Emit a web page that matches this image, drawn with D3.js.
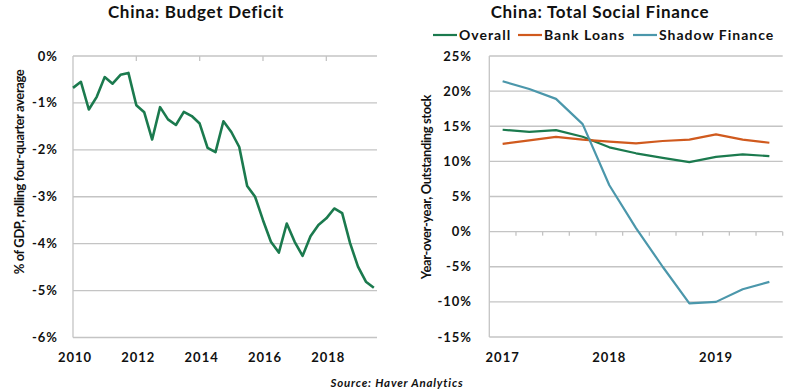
<!DOCTYPE html>
<html>
<head>
<meta charset="utf-8">
<script src="https://cdn.jsdelivr.net/npm/d3@7"></script>
<style>
  body { margin: 0; background: #fff; }
  svg text { font-family: Lato, "Open Sans", sans-serif; font-weight: bold; fill: #111; }
</style>
</head>
<body>
<div id="chart"></div>
<script>
// left panel: budget deficit, % of GDP, quarterly 2010Q1 .. 2019Q3
const deficitStart = 2010;
const deficit = [-0.68, -0.55, -1.14, -0.87, -0.45, -0.59, -0.40, -0.36,
    -1.05, -1.20, -1.78, -1.09, -1.35, -1.47, -1.19, -1.28,
    -1.44, -1.96, -2.05, -1.39, -1.62, -1.94, -2.77, -3.00,
    -3.50, -3.96, -4.19, -3.57, -3.96, -4.26, -3.84, -3.60,
    -3.46, -3.25, -3.35, -3.99, -4.49, -4.81, -4.94];
const deficitTicksY = [0, -1, -2, -3, -4, -5, -6];
const deficitTicksX = [2010, 2012, 2014, 2016, 2018];

// right panel: total social finance, yoy %, quarterly 2017Q1 .. 2019Q3
const quarters = ["2017Q1", "2017Q2", "2017Q3", "2017Q4", "2018Q1", "2018Q2",
    "2018Q3", "2018Q4", "2019Q1", "2019Q2", "2019Q3"];
const yearLabels = { "2017Q1": "2017", "2018Q1": "2018", "2019Q1": "2019" };
const overall = [14.5, 14.2, 14.45, 13.5, 12.0, 11.15, 10.5, 9.9, 10.65, 11.0, 10.75];
const bankLoans = [12.5, 13.0, 13.5, 13.1, 12.8, 12.55, 12.9, 13.1, 13.85, 13.1, 12.65];
const shadowFinance = [21.4, 20.3, 18.9, 15.3, 6.6, 0.5, -5.0, -10.2, -10.0, -8.2, -7.15];
const tsfTicksY = [25, 20, 15, 10, 5, 0, -5, -10, -15];

const series = [
    { name: "Overall", values: overall, color: "#1b7a4e" },
    { name: "Bank Loans", values: bankLoans, color: "#d05a1e" },
    { name: "Shadow Finance", values: shadowFinance, color: "#4b97ab" }
];

const W = 800, H = 392;
const gridColor = "#c4c4c4";

const svg = d3.select("#chart").append("svg")
    .attr("width", W).attr("height", H);

// ---------- left chart ----------
const x1 = d3.scaleLinear().domain([2010, 2019.6]).range([73, 377]);
const y1 = d3.scaleLinear().domain([-6, 0]).range([337.5, 56]);

const left = svg.append("g");

left.selectAll("line.grid")
    .data(deficitTicksY)
    .enter().append("line")
    .attr("class", "grid")
    .attr("x1", x1.range()[0]).attr("x2", x1.range()[1])
    .attr("y1", d => y1(d)).attr("y2", d => y1(d))
    .attr("stroke", gridColor).attr("stroke-width", 1.3);

left.append("line")
    .attr("x1", 73).attr("x2", 73)
    .attr("y1", y1(0)).attr("y2", y1(-6))
    .attr("stroke", gridColor).attr("stroke-width", 1.3);

// small tick marks hanging from the 0% line
left.selectAll("line.xtick")
    .data(deficitTicksX.slice(1))
    .enter().append("line")
    .attr("class", "xtick")
    .attr("x1", d => x1(d)).attr("x2", d => x1(d))
    .attr("y1", y1(0)).attr("y2", y1(0) + 5)
    .attr("stroke", gridColor).attr("stroke-width", 1.3);

left.selectAll("text.ylab")
    .data(deficitTicksY)
    .enter().append("text")
    .attr("class", "ylab")
    .attr("x", 58).attr("y", d => y1(d))
    .attr("dy", "0.35em")
    .attr("text-anchor", "end")
    .style("font-size", "13px")
    .style("letter-spacing", "1px")
    .text(d => d + "%");

left.selectAll("text.xlab")
    .data(deficitTicksX)
    .enter().append("text")
    .attr("class", "xlab")
    .attr("x", d => x1(d) + 2).attr("y", 357)
    .attr("dy", "0.35em")
    .attr("text-anchor", "middle")
    .style("font-size", "13px")
    .style("letter-spacing", "1px")
    .text(d => d);

left.append("path")
    .datum(deficit)
    .attr("fill", "none")
    .attr("stroke", "#1b7a4e")
    .attr("stroke-width", 2.6)
    .attr("stroke-linejoin", "round")
    .attr("d", d3.line()
        .x((d, i) => x1(deficitStart + i * 0.25))
        .y(d => y1(d)));

left.append("text")
    .attr("x", 196).attr("y", 12)
    .attr("dy", "0.35em")
    .attr("text-anchor", "middle")
    .style("font-size", "17px")
    .style("letter-spacing", "0.7px")
    .text("China: Budget Deficit");

left.append("text")
    .attr("transform", "translate(19,172) rotate(-90)")
    .attr("dy", "0.35em")
    .attr("text-anchor", "middle")
    .style("font-size", "13px")
    .style("letter-spacing", "-0.4px")
    .text("% of GDP, rolling four-quarter average");

// ---------- right chart ----------
const x2 = d3.scaleBand().domain(quarters).range([489.3, 782.7]);
const y2 = d3.scaleLinear().domain([-15, 25]).range([337, 56]);

const right = svg.append("g");

right.selectAll("line.grid")
    .data(tsfTicksY)
    .enter().append("line")
    .attr("class", "grid")
    .attr("x1", x2.range()[0]).attr("x2", x2.range()[1])
    .attr("y1", d => y2(d)).attr("y2", d => y2(d))
    .attr("stroke", gridColor).attr("stroke-width", 1.3);

right.append("line")
    .attr("x1", 489.3).attr("x2", 489.3)
    .attr("y1", y2(25)).attr("y2", y2(-15))
    .attr("stroke", gridColor).attr("stroke-width", 1.3);

// category tick marks on the 0% line
right.selectAll("line.xtick")
    .data(quarters)
    .enter().append("line")
    .attr("class", "xtick")
    .attr("x1", d => x2(d) + x2.bandwidth()).attr("x2", d => x2(d) + x2.bandwidth())
    .attr("y1", y2(0)).attr("y2", y2(0) + 4)
    .attr("stroke", gridColor).attr("stroke-width", 1.3);

right.selectAll("text.ylab")
    .data(tsfTicksY)
    .enter().append("text")
    .attr("class", "ylab")
    .attr("x", 472).attr("y", d => y2(d))
    .attr("dy", "0.35em")
    .attr("text-anchor", "end")
    .style("font-size", "13px")
    .style("letter-spacing", "1px")
    .text(d => d + "%");

right.selectAll("text.xlab")
    .data(quarters.filter(q => yearLabels[q]))
    .enter().append("text")
    .attr("class", "xlab")
    .attr("x", d => x2(d) + x2.bandwidth() / 2).attr("y", 357)
    .attr("dy", "0.35em")
    .attr("text-anchor", "middle")
    .style("font-size", "13px")
    .style("letter-spacing", "1px")
    .text(d => yearLabels[d]);

const line2 = d3.line()
    .x((d, i) => x2(quarters[i]) + x2.bandwidth() / 2)
    .y(d => y2(d));

right.selectAll("path.series")
    .data(series)
    .enter().append("path")
    .attr("class", "series")
    .attr("fill", "none")
    .attr("stroke", d => d.color)
    .attr("stroke-width", 2.2)
    .attr("stroke-linejoin", "round")
    .attr("d", d => line2(d.values));

right.append("text")
    .attr("x", 600).attr("y", 12)
    .attr("dy", "0.35em")
    .attr("text-anchor", "middle")
    .style("font-size", "17px")
    .style("letter-spacing", "0.7px")
    .text("China: Total Social Finance");

right.append("text")
    .attr("transform", "translate(426,187) rotate(-90)")
    .attr("dy", "0.35em")
    .attr("text-anchor", "middle")
    .style("font-size", "13px")
    .style("letter-spacing", "-0.4px")
    .text("Year-over-year, Outstanding stock");

// legend
const legendX = [433, 518, 633];
const legend = right.selectAll("g.legend")
    .data(series)
    .enter().append("g")
    .attr("class", "legend")
    .attr("transform", (d, i) => `translate(${legendX[i]},35)`);

legend.append("line")
    .attr("x1", 0).attr("x2", 24)
    .attr("stroke", d => d.color)
    .attr("stroke-width", 2.2);

legend.append("text")
    .attr("x", 26)
    .attr("dy", "0.35em")
    .style("font-size", "14px")
    .style("letter-spacing", "1px")
    .text(d => d.name);

// source
svg.append("text")
    .attr("x", 397).attr("y", 383)
    .attr("dy", "0.35em")
    .attr("text-anchor", "middle")
    .style("font-size", "11.5px")
    .style("font-style", "italic")
    .style("letter-spacing", "0.8px")
    .text("Source: Haver Analytics");
</script>
</body>
</html>
